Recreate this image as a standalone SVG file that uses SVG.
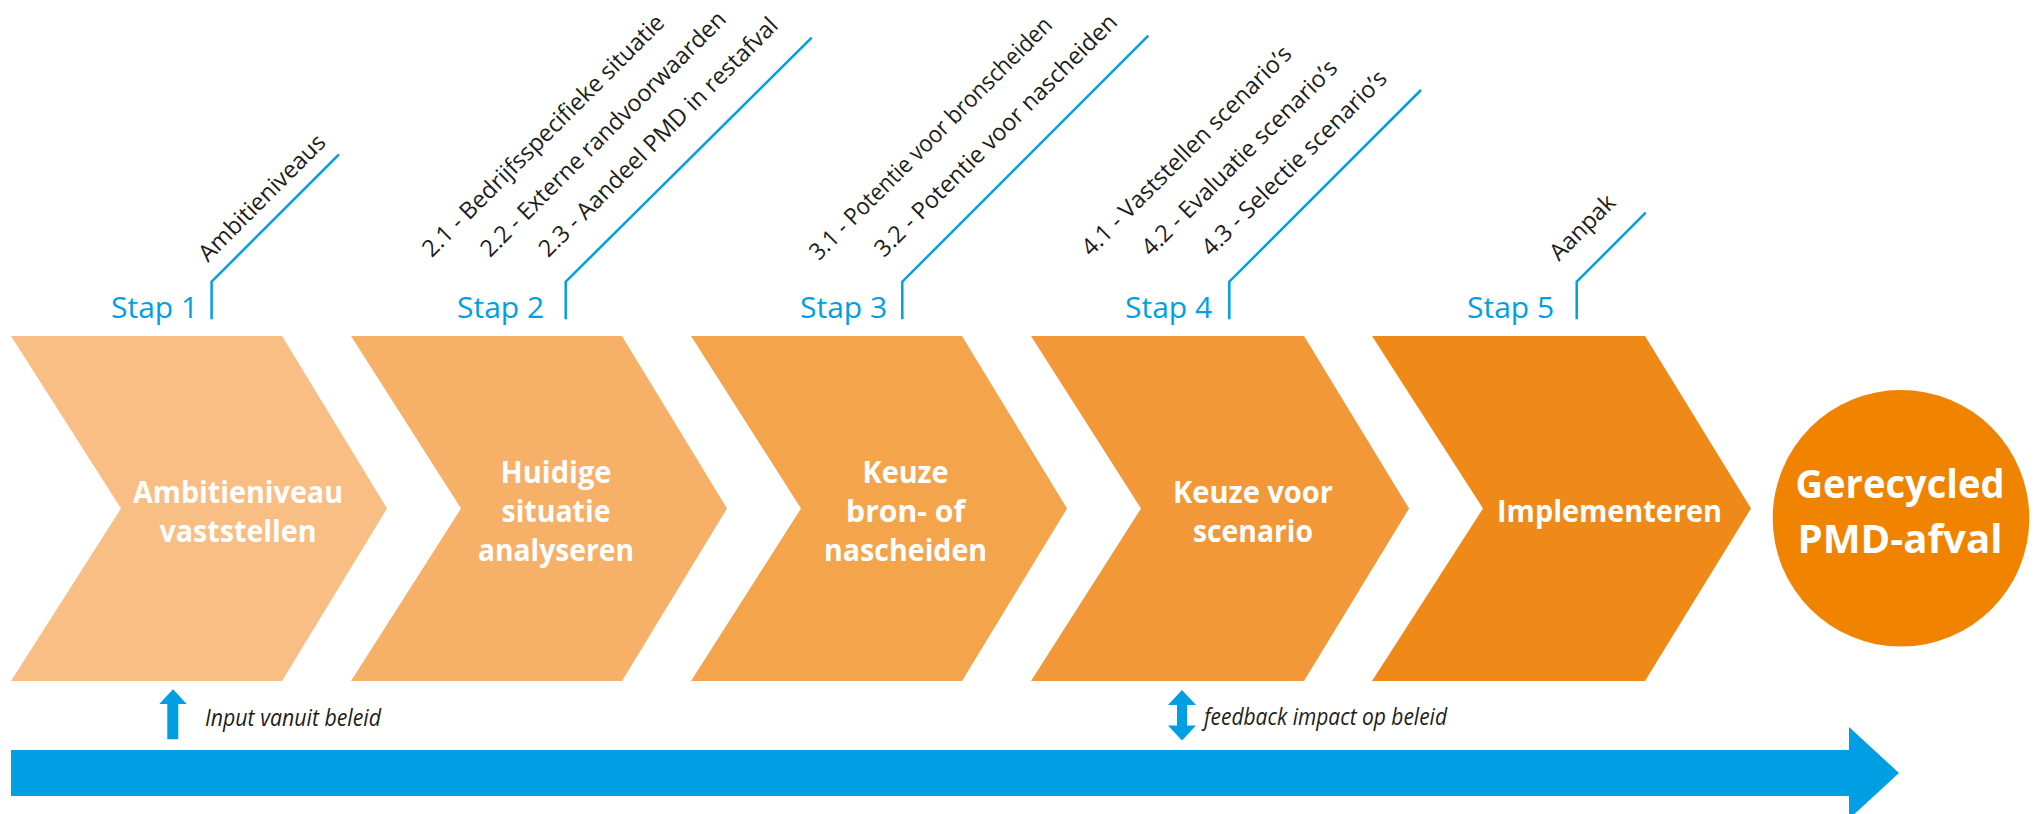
<svg xmlns="http://www.w3.org/2000/svg" width="2038" height="814" viewBox="0 0 2038 814">
<style>
.lbl{font-family:"Open Sans","Noto Sans","Liberation Sans",sans-serif;font-weight:700;font-size:30px;fill:#fff;text-anchor:middle}
.big{font-family:"Open Sans","Noto Sans","Liberation Sans",sans-serif;font-weight:700;font-size:40px;fill:#fff;text-anchor:middle}
.stap{font-family:"Open Sans","Noto Sans","Liberation Sans",sans-serif;font-size:30px;fill:#009FE3}
.sub{font-family:"Open Sans","Noto Sans","Liberation Sans",sans-serif;font-size:23.5px;fill:#1d1d1b}
.note{font-family:"Open Sans","Noto Sans","Liberation Sans",sans-serif;font-style:italic;font-size:24px;fill:#1d1d1b}
.call{fill:none;stroke:#009FE3;stroke-width:2.5}
.blue{fill:#009FE3}
</style>
<g id="connectors">
<polyline class="call" points="211.6,319.3 211.6,281.7 339,154.3"/>
<polyline class="call" points="565.7,319.3 565.7,281.7 811.7,37.7"/>
<polyline class="call" points="902.3,319.3 902.3,281.7 1148.3,35.7"/>
<polyline class="call" points="1229.3,319.3 1229.3,281.7 1421,90"/>
<polyline class="call" points="1576.7,319.3 1576.7,281.7 1645.7,212.7"/>
<polygon id="timeline" class="blue" points="11,750 1849,750 1849,727 1899,773 1849,819 1849,796 11,796"/>
<polygon id="input-arrow" class="blue" points="173,689.3 186.7,704 178.3,704 178.3,739.3 167.3,739.3 167.3,704 159.3,704"/>
<polygon id="feedback-arrow" class="blue" points="1182,690 1196,705 1187,705 1187,725.5 1196,725.5 1182,740.5 1168,725.5 1177,725.5 1177,705 1168,705"/>
</g>
<g id="step1">
<polygon fill="#F9BE84" points="11,336 282,336 387,508.5 282,681 11,681 121,508.5"/>
<text class="lbl" x="238" y="503.3" textLength="210" lengthAdjust="spacingAndGlyphs">Ambitieniveau</text>
<text class="lbl" x="238" y="542.3" textLength="157" lengthAdjust="spacingAndGlyphs">vaststellen</text>
<text class="stap" x="111" y="317.5">Stap 1</text>
<text class="sub" transform="translate(208,263) rotate(-45)">Ambitieniveaus</text>
</g>
<g id="step2">
<polygon fill="#F7B068" points="351,336 622,336 727,508.5 622,681 351,681 461,508.5"/>
<text class="lbl" x="556" y="482.5" textLength="111" lengthAdjust="spacingAndGlyphs">Huidige</text>
<text class="lbl" x="556" y="522" textLength="109" lengthAdjust="spacingAndGlyphs">situatie</text>
<text class="lbl" x="556" y="561" textLength="156" lengthAdjust="spacingAndGlyphs">analyseren</text>
<text class="stap" x="457" y="317.5">Stap 2</text>
<text class="sub" transform="translate(431.7,258.3) rotate(-45)">2.1 - Bedrijfsspecifieke situatie</text>
<text class="sub" transform="translate(490,258.3) rotate(-45)" textLength="336" lengthAdjust="spacingAndGlyphs">2.2 - Externe randvoorwaarden</text>
<text class="sub" transform="translate(548.3,258.3) rotate(-45)">2.3 - Aandeel PMD in restafval</text>
</g>
<g id="step3">
<polygon fill="#F4A54C" points="691,336 962,336 1067,508.5 962,681 691,681 801,508.5"/>
<text class="lbl" x="905.6" y="482.5" textLength="86" lengthAdjust="spacingAndGlyphs">Keuze</text>
<text class="lbl" x="905.6" y="522" textLength="119" lengthAdjust="spacingAndGlyphs">bron- of</text>
<text class="lbl" x="905.6" y="561" textLength="163" lengthAdjust="spacingAndGlyphs">nascheiden</text>
<text class="stap" x="800" y="317.5">Stap 3</text>
<text class="sub" transform="translate(819,261.3) rotate(-45)" textLength="332" lengthAdjust="spacingAndGlyphs">3.1 - Potentie voor bronscheiden</text>
<text class="sub" transform="translate(884,258.3) rotate(-45)">3.2 - Potentie voor nascheiden</text>
</g>
<g id="step4">
<polygon fill="#F29838" points="1031,336 1304,336 1409,508.5 1304,681 1031,681 1141,508.5"/>
<text class="lbl" x="1253" y="503" textLength="160" lengthAdjust="spacingAndGlyphs">Keuze voor</text>
<text class="lbl" x="1253" y="542" textLength="120" lengthAdjust="spacingAndGlyphs">scenario</text>
<text class="stap" x="1125" y="317.5">Stap 4</text>
<text class="sub" transform="translate(1091,257.3) rotate(-45)">4.1 - Vaststellen scenario’s</text>
<text class="sub" transform="translate(1151,257.3) rotate(-45)">4.2 - Evaluatie scenario’s</text>
<text class="sub" transform="translate(1211,257.3) rotate(-45)">4.3 - Selectie scenario’s</text>
</g>
<g id="step5">
<polygon fill="#EF8A18" points="1372,336 1645,336 1751,508.5 1645,681 1372,681 1483,508.5"/>
<text class="lbl" x="1609.5" y="522" textLength="225" lengthAdjust="spacingAndGlyphs">Implementeren</text>
<text class="stap" x="1467" y="317.5">Stap 5</text>
<text class="sub" transform="translate(1559,262) rotate(-45)">Aanpak</text>
</g>
<g id="result">
<circle cx="1901" cy="518.3" r="128.3" fill="#F08300"/>
<text class="big" x="1900" y="498.3" textLength="209" lengthAdjust="spacingAndGlyphs">Gerecycled</text>
<text class="big" x="1900" y="553.3" textLength="205" lengthAdjust="spacingAndGlyphs">PMD-afval</text>
</g>
<g id="notes">
<text class="note" x="205" y="726" textLength="176" lengthAdjust="spacingAndGlyphs">Input vanuit beleid</text>
<text class="note" x="1204" y="725" textLength="243" lengthAdjust="spacingAndGlyphs">feedback impact op beleid</text>
</g>
</svg>
